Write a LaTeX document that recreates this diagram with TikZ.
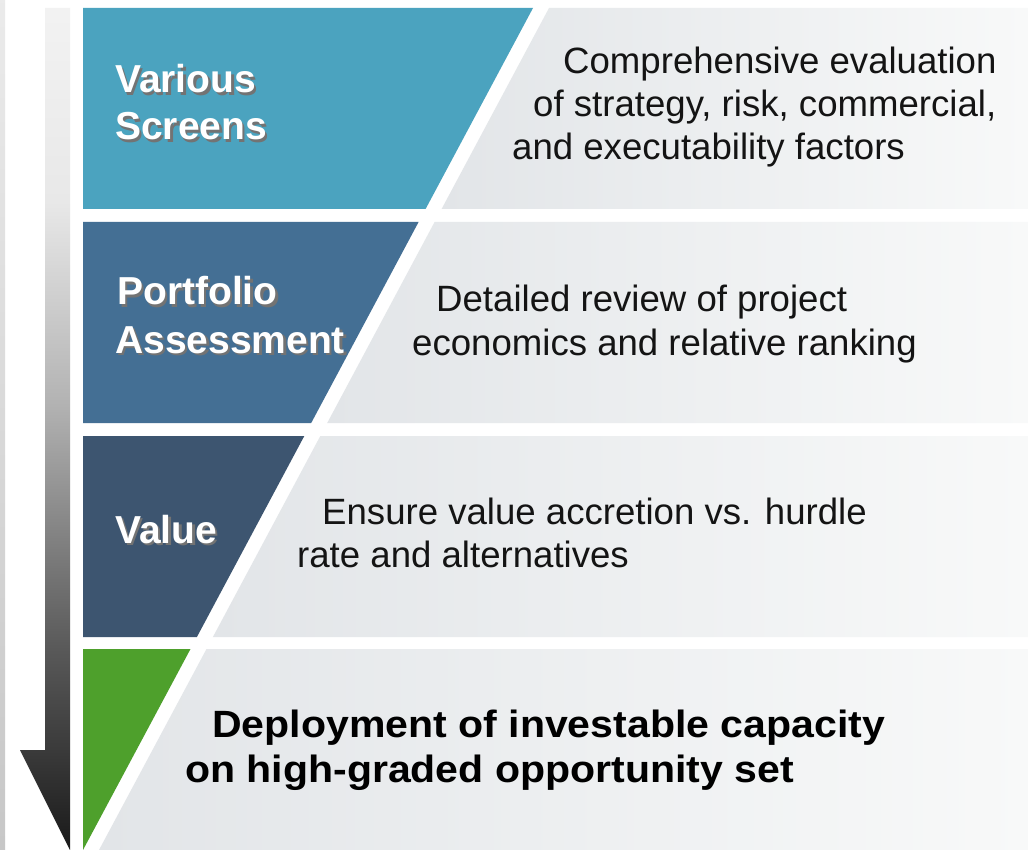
\documentclass[tikz,border=0pt]{standalone}
\usepackage{fontspec}
\setmainfont{Liberation Sans}
\newfontfamily\depfont[FakeStretch=1.08]{Liberation Sans Bold}
\newcommand\shadowtext[1]{\rlap{\hspace{2.5pt}\raisebox{-2.5pt}{\textcolor{black!55}{#1}}}#1}
\pgfdeclareverticalshading{arrowshade}{100bp}{color(0bp)=(black!90); color(25bp)=(black!90); color(31bp)=(black!77); color(37bp)=(black!65); color(51.5bp)=(black!30); color(63.5bp)=(black!9); color(75bp)=(black!5); color(100bp)=(black!5)}
\definecolor{bandA}{HTML}{4BA3BF}
\definecolor{bandB}{HTML}{446F94}
\definecolor{bandC}{HTML}{3D5570}
\definecolor{bandD}{HTML}{4EA02C}
\definecolor{greyL}{HTML}{E2E5E8}
\definecolor{greyR}{HTML}{F8F9F9}
\begin{document}
\begin{tikzpicture}[x=1pt,y=-1pt,
  greyband/.style={left color=greyL,right color=greyR,draw=none},
  desc/.style={anchor=base west,inner sep=0pt,font=\fontsize{36.6}{43}\selectfont,text=black!92},
  lab/.style={anchor=base west,inner sep=0pt,font=\fontsize{39}{47}\selectfont\bfseries,text=white},
  dep/.style={anchor=base west,inner sep=0pt,font=\fontsize{38}{45}\selectfont\depfont,text=black}]
\useasboundingbox (0,0) rectangle (1028,850);
\fill[white] (0,0) rectangle (1028,850);
% left thin strip
\shade[top color=black!8,bottom color=black!22] (0,0) rectangle (5,850);
% arrow
\shade[shading=arrowshade] (45,8) -- (70,8) -- (70,850) -- (20,750) -- (45,750) -- cycle;
% coloured parts
\fill[bandA] (83,8) -- (533,8) -- (425.6,209) -- (83,209) -- cycle;
\fill[bandB] (83,222) -- (418.6,222) -- (311.2,423) -- (83,423) -- cycle;
\fill[bandC] (83,436) -- (304.3,436) -- (196.9,637) -- (83,637) -- cycle;
\fill[bandD] (83,649) -- (190.5,649) -- (83,850) -- cycle;
% grey parts
\shade[greyband] (549,8) -- (1028,8) -- (1028,209) -- (441.6,209) -- cycle;
\shade[greyband] (434.6,222) -- (1028,222) -- (1028,423) -- (327.2,423) -- cycle;
\shade[greyband] (320.3,436) -- (1028,436) -- (1028,637) -- (212.9,637) -- cycle;
\shade[greyband] (206.5,649) -- (1028,649) -- (1028,850) -- (99,850) -- cycle;
% white labels with shadows
\node[lab] (l1a) at (115,93) {\shadowtext{Various}};
\node[lab] (l1b) at (115,140) {\shadowtext{Screens}};
\node[lab] (l2a) at (117,305) {\shadowtext{Portfolio}};
\node[lab] (l2b) at (115,353) {\shadowtext{Assessment}};
\node[lab] (l3) at (115,543) {\shadowtext{Value}};
% descriptions
\node[desc] (d1a) at (563,74) {Comprehensive evaluation};
\node[desc] (d1b) at (533,117) {of strategy, risk, commercial,};
\node[desc] (d1c) at (512,160) {and executability factors};
\node[desc] (d2a) at (436,312) {Detailed review of project};
\node[desc] (d2b) at (412,355) {economics and relative ranking};
\node[desc] (d3a) at (322,524) {Ensure value accretion vs. hurdle};
\node[desc] (d3b) at (297,567) {rate and alternatives};
\node[dep] (d4a) at (212,737) {Deployment of investable capacity};
\node[dep] (d4b) at (185,782) {on high-graded opportunity set};
\end{tikzpicture}
\end{document}
